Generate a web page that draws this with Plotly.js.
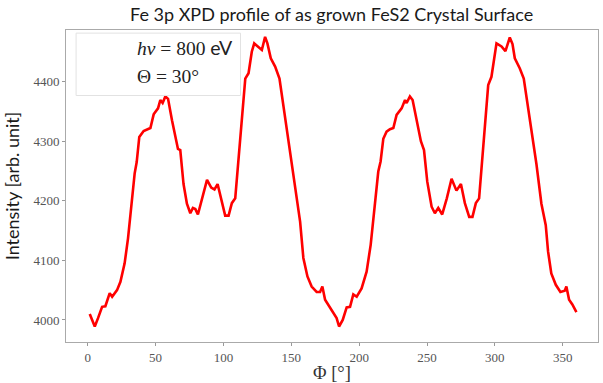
<!DOCTYPE html>
<html>
<head>
<meta charset="utf-8">
<script src="https://cdn.plot.ly/plotly-3.0.1.min.js"></script>
<style>
  html, body { margin: 0; padding: 0; background: #ffffff; }
  #chart { width: 603px; height: 383px; }
</style>
</head>
<body>
<div id="chart"></div>
<script>
// Azimuthal angle Phi (degrees)
const phi = [
  1.5, 5.2, 7.6, 10.6, 13, 16.2, 18, 21.6, 24.1, 27.2, 29.7, 32.7, 34.6, 36.1, 38,
  41.2, 43.7, 46.2, 48.6, 51.8, 53.5, 55.2, 57.2, 59.2, 62.1, 64.5, 66.5, 68.2,
  70.6, 73.1, 75.6, 77.5, 79.3, 81.2, 84.2, 87.9, 91, 93.4, 95.7, 98.9, 101.3,
  103.8, 106.2, 108.7, 112.4, 116.1, 118.5, 120.9, 122.7, 125.1, 128.3, 130.7,
  132.4, 134.9, 138.1, 141.3, 144.3, 147.2, 150.3, 153.6, 156.5, 158.9, 161.9,
  165, 168.7, 171.2, 172.9, 174.9, 178.1, 181, 183.4, 185.2, 187.9, 190.8, 193.3,
  195.7, 198.2, 201.8, 205.5, 208.5, 211, 214.1, 215.8, 217.8, 220.2, 222.7,
  225.2, 227.6, 231.3, 233.8, 235, 237.4, 239.4, 242.3, 245.5, 247.8, 250.2,
  253.4, 255.8, 258.3, 261.2, 264.6, 268.1, 271.7, 275, 277.9, 281.1, 283.5, 286,
  288.4, 291.4, 295.1, 297.5, 301.2, 304.9, 307.8, 311, 313, 314.7, 318.4, 321.3,
  324.5, 327.7, 330.6, 334.3, 337.5, 339.2, 341.6, 344.9, 348.3, 351.5, 352.7,
  354.7, 357.1, 360.1
];

// Fe 3p photoemission intensity (arb. unit)
const intensity = [
  4010, 3989, 4003, 4022, 4023, 4045, 4039, 4050, 4064, 4095, 4137, 4198, 4246, 4265, 4307,
  4317, 4320, 4322, 4345, 4355, 4369, 4364, 4375, 4371, 4335, 4308, 4287, 4285,
  4228, 4195, 4179, 4188, 4186, 4177, 4204, 4235, 4222, 4219, 4228, 4198, 4175,
  4175, 4196, 4204, 4311, 4405, 4414, 4450, 4464, 4459, 4453, 4475,
  4464, 4439, 4425, 4405, 4357, 4319, 4266, 4210, 4165, 4104, 4073,
  4056, 4047, 4047, 4056, 4034, 4022, 4011, 4003, 3989, 4000, 4021, 4022,
  4043, 4039, 4053, 4081, 4126, 4182, 4249, 4266, 4304, 4316, 4320,
  4322, 4344, 4355, 4369, 4364, 4375, 4369, 4336, 4300, 4285, 4232,
  4190, 4179, 4188, 4177, 4204, 4237, 4217, 4228, 4196, 4173, 4173, 4196,
  4204, 4291, 4394, 4408, 4464, 4459, 4451, 4474, 4463, 4439, 4422, 4405,
  4355, 4311, 4262, 4195, 4159, 4115, 4078, 4059, 4047, 4049, 4056,
  4034, 4026, 4013
];

const xTicks = [0, 50, 100, 150, 200, 250, 300, 350];
const yTicks = [4000, 4100, 4200, 4300, 4400];

const chartTitle = 'Fe 3p XPD profile of as grown FeS2 Crystal Surface';
const xTitle = 'Φ [°]';
const yTitle = 'Intensity [arb. unit]';
const infoLines = ['<i>hν</i> = 800 <span style="font-family:Lato">eV</span>', 'Θ = 30°'];

const sans = 'Lato, "Open Sans", sans-serif';
const serif = '"Liberation Serif", "DejaVu Serif", serif';

const trace = {
  x: phi,
  y: intensity,
  type: 'scatter',
  mode: 'lines',
  line: { color: '#ff0000', width: 2.6 },
  hoverinfo: 'skip'
};

const layout = {
  width: 603,
  height: 383,
  margin: { l: 66, r: 5, t: 30, b: 41 },
  paper_bgcolor: '#ffffff',
  plot_bgcolor: '#ffffff',
  showlegend: false,
  title: {
    text: chartTitle,
    font: { family: sans, size: 18, color: '#1a1a1a' },
    x: 0.55, xanchor: 'center',
    y: 0.962, yanchor: 'middle'
  },
  xaxis: {
    range: [-16, 376],
    tickvals: xTicks,
    ticktext: xTicks.map(String),
    ticks: 'outside', ticklen: 3, tickcolor: '#999',
    tickfont: { family: serif, size: 13, color: '#555' },
    showgrid: false, zeroline: false,
    showline: true, linecolor: '#aaa', linewidth: 1, mirror: true,
    title: { text: xTitle, font: { family: serif, size: 18.5, color: '#333' }, standoff: 3 }
  },
  yaxis: {
    range: [3963, 4486.5],
    tickvals: yTicks,
    ticktext: yTicks.map(String),
    ticks: 'outside', ticklen: 3, tickcolor: '#999',
    tickfont: { family: serif, size: 13, color: '#555' },
    showgrid: false, zeroline: false,
    showline: true, linecolor: '#aaa', linewidth: 1, mirror: true,
    title: { text: yTitle, font: { family: sans, size: 18, color: '#1a1a1a' }, standoff: 9 }
  },
  shapes: [{
    type: 'rect', xref: 'paper', yref: 'paper',
    x0: 0.019, x1: 0.328, y0: 0.79, y1: 0.99,
    line: { color: '#e2e2e2', width: 1 },
    fillcolor: 'rgba(255,255,255,0.85)', layer: 'above'
  }],
  annotations: [
    {
      xref: 'paper', yref: 'paper', x: 0.13, y: 0.944,
      xanchor: 'left', yanchor: 'middle', showarrow: false,
      text: infoLines[0],
      font: { family: serif, size: 19.5, color: '#222' }
    },
    {
      xref: 'paper', yref: 'paper', x: 0.13, y: 0.85,
      xanchor: 'left', yanchor: 'middle', showarrow: false,
      text: infoLines[1],
      font: { family: serif, size: 19.5, color: '#222' }
    }
  ]
};

Plotly.newPlot('chart', [trace], layout, { displayModeBar: false, staticPlot: true });
</script>
</body>
</html>
